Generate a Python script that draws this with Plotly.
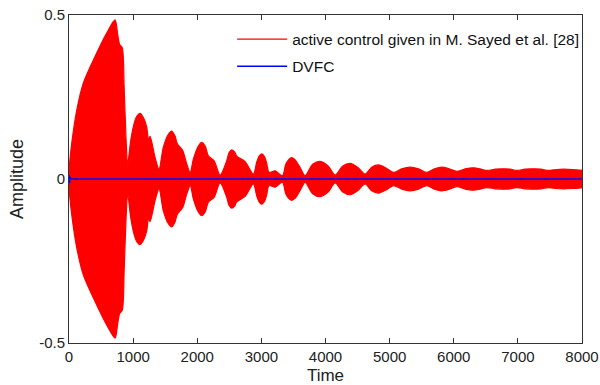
import plotly.graph_objects as go

# Envelope of the dense red oscillation
sayed_t = [0, 42, 120, 223, 379, 588, 718, 760, 790, 830, 860, 890, 915,
           962, 1014, 1055, 1108, 1165, 1212, 1240, 1264, 1342, 1404,
           1471, 1545, 1602, 1655, 1690, 1773, 1836, 1890,
           1940, 2015, 2069, 2125, 2173, 2262, 2356,
           2459, 2495, 2538, 2585, 2615, 2746, 2875,
           2927, 2965, 3006, 3050, 3081, 3120, 3214, 3328,
           3380, 3430, 3471, 3520, 3604, 3682,
           3800, 3916, 4040, 4150, 4270, 4384, 4500, 4618, 4720, 4826, 4950, 5060,
           5190, 5320, 5450, 5580, 5700, 5814, 5930, 6048, 6180, 6307, 6410, 6516,
           6650, 6776, 6880, 6984, 7110, 7244, 7360, 7478, 7600, 7712, 7850, 8000]
sayed_env = [0.03, 0.108, 0.209, 0.292, 0.362, 0.445, 0.485, 0.44, 0.41, 0.40, 0.28, 0.12, 0.045,
             0.117, 0.168, 0.19, 0.200, 0.185, 0.158, 0.12, 0.13, 0.066, 0.03,
             0.097, 0.135, 0.146, 0.13, 0.107, 0.087, 0.046, 0.02,
             0.061, 0.10, 0.112, 0.10, 0.071, 0.056, 0.012,
             0.055, 0.08, 0.089, 0.082, 0.07, 0.053, 0.015,
             0.051, 0.07, 0.077, 0.068, 0.05, 0.02, 0.025, 0.01,
             0.045, 0.06, 0.065, 0.06, 0.035, 0.01,
             0.045, 0.054, 0.04, 0.012, 0.04, 0.048, 0.036, 0.015, 0.036, 0.043, 0.033, 0.02,
             0.031, 0.036, 0.031, 0.02, 0.031, 0.036, 0.031, 0.023, 0.031, 0.034, 0.031, 0.026,
             0.03, 0.031, 0.03, 0.026, 0.03, 0.031, 0.03, 0.026, 0.029, 0.03, 0.029, 0.027]
sayed_lower = [-v for v in sayed_env]

dvfc_t = [0, 8, 16, 30, 8000]
dvfc_amp = [0.012, -0.012, 0.006, 0, 0]

x_ticks = [0, 1000, 2000, 3000, 4000, 5000, 6000, 7000, 8000]
y_ticks = [-0.5, 0, 0.5]
y_ticktext = ["-0.5", "0", "0.5"]

fig = go.Figure()
fig.add_trace(go.Scatter(x=sayed_t, y=sayed_lower, mode="lines", legendgroup="a",
                         line=dict(color="#ff0000", width=1.2, shape="spline", smoothing=0.8),
                         name="active control given in M. Sayed et al. [28]"))
fig.add_trace(go.Scatter(x=sayed_t, y=sayed_env, mode="lines", fill="tonexty",
                         fillcolor="#ff0000", legendgroup="a",
                         line=dict(color="#ff0000", width=1.2, shape="spline", smoothing=0.8),
                         showlegend=False))
fig.add_trace(go.Scatter(x=dvfc_t, y=dvfc_amp, mode="lines", legendgroup="b",
                         line=dict(color="#0000ff", width=1.6), name="DVFC"))

axis_common = dict(showline=True, linecolor="#333333", linewidth=1, mirror="ticks",
                   ticks="inside", ticklen=5, tickcolor="#333333", showgrid=False,
                   zeroline=False, automargin=False,
                   tickfont=dict(family="Liberation Sans, Arial", size=15, color="#222"))
fig.update_xaxes(range=[0, 8000], tickvals=x_ticks, title=dict(text="Time", standoff=5,
                 font=dict(family="Liberation Sans, Arial", size=17, color="#222")), **axis_common)
fig.update_yaxes(range=[-0.5, 0.5], tickvals=y_ticks, ticktext=y_ticktext,
                 title=dict(text="Amplitude", standoff=10,
                            font=dict(family="Liberation Sans, Arial", size=18, color="#222")),
                 **axis_common)

fig.update_layout(width=600, height=385, plot_bgcolor="white", paper_bgcolor="white",
                  margin=dict(l=69, r=18, t=15, b=42),
                  legend=dict(x=0.318, y=0.977, xanchor="left", yanchor="top",
                              traceorder="grouped", tracegroupgap=4,
                              bgcolor="rgba(255,255,255,0)", borderwidth=0,
                              font=dict(family="Liberation Sans, Arial", size=15.5, color="#111"),
                              itemwidth=50))
fig.write_html("out.html", config={"displayModeBar": False},
               post_script="document.body.style.margin='0';document.body.style.overflow='hidden';")
